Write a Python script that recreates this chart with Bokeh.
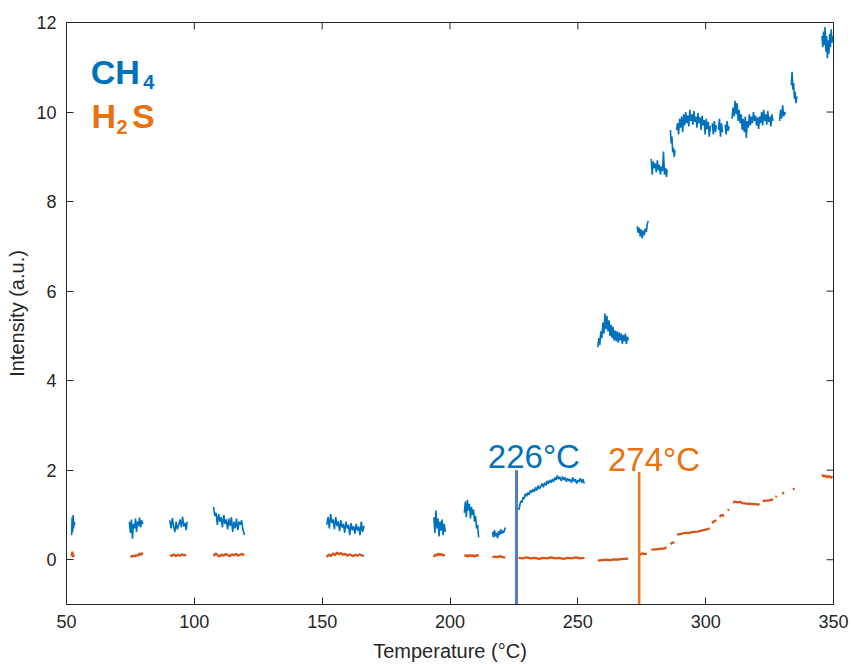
import math
from bokeh.plotting import figure
from bokeh.models import Range1d, FixedTicker
from bokeh.core.properties import value
from bokeh.embed import file_html
from bokeh.resources import INLINE

# ---------------- data ----------------
x_min, x_max = 50, 350
y_min, y_max = -1, 12
x_ticks = [50, 100, 150, 200, 250, 300, 350]
y_ticks = [0, 2, 4, 6, 8, 10, 12]

ch4_x = [
    [52.0, 52.2, 52.4, 52.6, 52.8, 53.0, 53.2],
    [74.6, 75.0, 75.4, 75.8, 76.2, 76.6, 77.0, 77.4, 77.8, 78.2, 78.6, 79.0, 79.4, 79.9],
    [90.4, 90.9, 91.4, 91.9, 92.4, 92.9, 93.4, 93.9, 94.4, 94.9, 95.4, 95.9, 96.4, 96.8, 97.2],
    [107.5, 108.0, 108.5, 109.0, 109.5, 110.0, 110.5, 111.0, 111.5, 112.0, 112.5, 113.0, 113.5,
     114.0, 114.5, 115.0, 115.5, 116.0, 116.5, 117.0, 117.5, 118.0, 118.5, 119.0, 119.6],
    [151.8, 152.3, 152.8, 153.3, 153.8, 154.3, 154.8, 155.3, 155.8, 156.3, 156.8, 157.3, 157.8,
     158.3, 158.8, 159.3, 159.8, 160.3, 160.8, 161.3, 161.8, 162.3, 162.8, 163.3, 163.8, 164.3,
     164.8, 165.3, 165.8, 166.4],
    [193.7, 194.1, 194.5, 194.9, 195.3, 195.7, 196.1, 196.5, 196.9, 197.3, 197.7, 198.2],
    [205.6, 206.0, 206.4, 206.8, 207.2, 207.6, 208.0, 208.4, 208.8, 209.2, 209.6, 210.0, 210.4,
     210.8, 211.2],
    [216.6, 217.0, 217.4, 217.8, 218.2, 218.6, 219.0, 219.4, 219.8, 220.2, 220.6, 221.0, 221.6],
    [226.7, 227.0, 227.4, 227.8, 228.2, 228.6, 229.0, 229.5, 230.0, 230.5, 231.0, 231.5, 232.0,
     232.5, 233.0, 233.5, 234.0, 234.5, 235.0, 235.5, 236.0, 236.5, 237.0, 237.5, 238.0, 238.5,
     239.0, 239.5, 240.0, 240.5, 241.0, 241.5, 242.0, 242.5, 243.0, 243.5, 244.0, 244.5, 245.0,
     245.5, 246.0, 246.5, 247.0, 247.5, 248.0, 248.5, 249.0, 249.5, 250.0, 250.5, 251.0, 251.5,
     252.0, 252.5],
    [257.8, 258.2, 258.6, 259.0, 259.4, 259.8, 260.2, 260.6, 261.0, 261.4, 261.8, 262.2, 262.6,
     263.0, 263.4, 263.8, 264.2, 264.6, 265.0, 265.4, 265.8, 266.2, 266.6, 267.0, 267.4, 267.8,
     268.2, 268.6, 269.0, 269.4, 269.7],
    [273.2, 273.6, 274.0, 274.4, 274.8, 275.2, 275.6, 276.0, 276.4, 276.8, 277.2, 277.5],
    [278.7, 279.1, 279.5, 279.9, 280.3, 280.7, 281.1, 281.5, 281.9, 282.3, 282.7, 283.1, 283.5,
     283.9, 284.3, 284.7, 284.9],
    [286.2, 286.5, 286.8, 287.1, 287.4, 287.7, 288.0],
    [288.6, 289.0, 289.4, 289.8, 290.2, 290.6, 291.0, 291.4, 291.8, 292.2, 292.6, 293.0, 293.4,
     293.8, 294.2, 294.6, 295.0, 295.4, 295.8, 296.2, 296.6, 297.0, 297.4, 297.8, 298.2, 298.6,
     299.0, 299.4, 299.8, 300.2, 300.6, 301.0, 301.4, 301.9],
    [302.6, 303.0, 303.4, 303.8, 304.2],
    [305.0, 305.4, 305.8, 306.2, 306.6],
    [307.6, 308.0, 308.4, 308.8, 309.2],
    [310.3, 310.7, 311.1, 311.5, 311.9, 312.3, 312.7, 313.1, 313.5, 313.9, 314.3, 314.7, 315.1,
     315.5, 315.9, 316.3, 316.7, 317.1, 317.5, 317.9, 318.3, 318.7, 319.1, 319.5, 319.9, 320.3,
     320.7, 321.1, 321.5, 321.9, 322.3, 322.7, 323.1, 323.5, 323.9, 324.3, 324.7, 325.1, 325.5,
     325.9, 326.3],
    [328.9, 329.3, 329.7, 330.1, 330.5, 330.9, 331.2],
    [333.5, 333.8, 334.1, 334.4, 334.7, 335.0, 335.3, 335.7],
    [345.5, 345.8, 346.1, 346.4, 346.7, 347.0, 347.3, 347.6, 347.9, 348.2, 348.5, 348.8, 349.1,
     349.4, 349.7],
]
ch4_y = [
    [0.55, 0.95, 0.62, 1.0, 0.7, 0.85, 0.78],
    [0.85, 0.6, 0.9, 0.47, 0.8, 0.7, 0.92, 0.62, 0.85, 0.75, 0.94, 0.72, 0.88, 0.8],
    [0.88, 0.7, 0.93, 0.75, 0.62, 0.85, 0.68, 0.78, 0.9, 0.72, 0.96, 0.74, 0.82, 0.66, 0.85],
    [1.18, 0.98, 1.05, 0.78, 1.02, 0.85, 0.95, 0.72, 1.0, 0.8, 0.9, 0.68, 0.92, 0.75, 0.95,
     0.62, 0.85, 0.7, 0.92, 0.66, 0.85, 0.78, 0.88, 0.68, 0.55],
    [0.78, 0.95, 0.7, 1.02, 0.82, 0.9, 0.68, 0.95, 0.75, 0.86, 0.64, 0.88, 0.72, 0.8, 0.6,
     0.85, 0.7, 0.78, 0.55, 0.82, 0.66, 0.75, 0.58, 0.8, 0.65, 0.74, 0.55, 0.85, 0.62, 0.76],
    [0.95, 0.6, 1.1, 0.7, 0.92, 0.52, 0.85, 0.65, 0.9, 0.55, 0.8, 0.62],
    [1.05, 1.3, 0.95, 1.34, 1.1, 1.25, 0.92, 1.18, 1.0, 1.12, 0.85, 0.98, 0.7, 0.78, 0.5],
    [0.62, 0.5, 0.66, 0.52, 0.6, 0.48, 0.64, 0.55, 0.68, 0.58, 0.65, 0.6, 0.72],
    [1.15, 1.12, 1.25, 1.32, 1.28, 1.4, 1.36, 1.48, 1.42, 1.5, 1.45, 1.55, 1.5, 1.58, 1.52,
     1.62, 1.55, 1.66, 1.58, 1.64, 1.7, 1.62, 1.72, 1.66, 1.76, 1.7, 1.78, 1.72, 1.8, 1.74,
     1.84, 1.78, 1.88, 1.8, 1.85, 1.76, 1.86, 1.78, 1.84, 1.74, 1.82, 1.76, 1.8, 1.72, 1.84,
     1.75, 1.8, 1.7, 1.78, 1.74, 1.82, 1.72, 1.8, 1.7],
    [4.75, 4.95, 4.8, 5.1, 4.95, 5.3, 5.05, 5.5, 5.15, 5.45, 5.1, 5.35, 5.0, 5.25, 4.95, 5.2,
     4.9, 5.12, 4.88, 5.1, 4.85, 5.08, 4.9, 5.05, 4.82, 5.02, 4.88, 5.05, 4.82, 4.98, 4.9],
    [7.45, 7.3, 7.42, 7.22, 7.38, 7.18, 7.35, 7.25, 7.4, 7.32, 7.5, 7.57],
    [8.95, 8.6, 8.9, 8.75, 8.85, 8.65, 8.92, 8.7, 8.82, 8.6, 8.78, 8.68, 9.12, 8.6, 8.75,
     8.55, 8.72],
    [9.6, 9.3, 9.45, 9.1, 9.2, 9.0, 9.15],
    [9.6, 9.75, 9.5, 9.85, 9.65, 9.9, 9.55, 9.95, 9.7, 10.0, 9.75, 9.92, 9.68, 10.05, 9.8,
     9.95, 9.72, 10.02, 9.78, 9.9, 9.65, 9.98, 9.75, 9.88, 9.6, 9.92, 9.7, 9.82, 9.5, 9.85,
     9.62, 9.78, 9.45, 9.7],
    [9.75, 9.5, 9.8, 9.55, 9.7],
    [9.6, 9.85, 9.45, 9.75, 9.55],
    [9.72, 9.5, 9.8, 9.58, 9.68],
    [9.85, 10.1, 9.9, 10.25, 9.95, 10.2, 9.8, 10.05, 9.75, 9.95, 9.6, 9.85, 9.55, 9.9, 9.42,
     9.8, 9.65, 9.95, 9.7, 9.9, 9.75, 10.0, 9.8, 9.92, 9.7, 9.88, 9.62, 9.9, 9.75, 10.0, 9.7,
     10.05, 9.8, 9.95, 9.72, 10.02, 9.78, 9.9, 9.68, 9.95, 9.8],
    [9.8, 10.05, 9.85, 10.15, 9.9, 10.0, 9.95],
    [10.6, 10.9, 10.5, 10.65, 10.3, 10.45, 10.2, 10.35],
    [11.7, 11.45, 11.8, 11.5, 11.9, 11.35, 11.7, 11.2, 11.6, 11.3, 11.75, 11.45, 11.85, 11.55,
     11.7],
]

h2s_x = [
    [52.0, 52.3, 52.6, 52.9],
    [75.0, 75.6, 76.2, 76.8, 77.4, 78.0, 78.6, 79.2, 79.8],
    [90.4, 91.2, 92.0, 92.8, 93.6, 94.4, 95.2, 96.0, 96.8],
    [107.5, 108.3, 109.1, 109.9, 110.7, 111.5, 112.3, 113.1, 113.9, 114.7, 115.5, 116.3, 117.1,
     117.9, 118.7, 119.5],
    [151.8, 152.6, 153.4, 154.2, 155.0, 155.8, 156.6, 157.4, 158.2, 159.0, 159.8, 160.6, 161.4,
     162.2, 163.0, 163.8, 164.6, 165.4, 166.3],
    [193.7, 194.3, 194.9, 195.5, 196.1, 196.7, 197.3, 198.0],
    [205.6, 206.3, 207.0, 207.7, 208.4, 209.1, 209.8, 210.5, 211.2],
    [216.6, 217.6, 218.6, 219.6, 220.6, 221.6],
    [226.8, 228.4, 230.0, 231.6, 233.2, 234.8, 236.4, 238.0, 239.6, 241.2, 242.8, 244.4, 246.0,
     247.6, 249.2, 250.8, 252.6],
    [257.8, 259.4, 261.0, 262.6, 264.2, 265.8, 267.4, 269.0, 269.7],
    [273.6, 274.4, 275.2, 276.0, 277.0],
    [278.8, 279.8, 280.8, 281.8, 282.8, 283.8, 284.7],
    [286.2, 287.0, 287.8],
    [288.8, 290.4, 292.0, 293.6, 295.2, 296.8, 298.4, 300.0, 301.6],
    [302.5, 303.3, 304.2],
    [305.4, 306.3, 307.3],
    [308.7, 309.1],
    [310.7, 311.5, 312.5, 313.5, 314.5, 315.5, 316.5, 317.5, 318.5, 319.5, 320.3, 321.1],
    [322.3, 323.3, 324.3, 325.3, 326.4],
    [327.3, 327.8],
    [330.0, 330.6],
    [334.1, 334.8],
    [345.5, 346.2, 346.9, 347.6, 348.3, 349.0, 349.6],
]
h2s_y = [
    [0.08, 0.18, 0.06, 0.12],
    [0.08, 0.07, 0.09, 0.08, 0.1, 0.09, 0.14, 0.11, 0.16],
    [0.1, 0.09, 0.12, 0.08, 0.11, 0.09, 0.12, 0.1, 0.11],
    [0.08, 0.14, 0.1, 0.07, 0.12, 0.09, 0.13, 0.1, 0.08, 0.12, 0.1, 0.13, 0.09, 0.11, 0.13, 0.1],
    [0.06, 0.12, 0.08, 0.14, 0.1, 0.16, 0.12, 0.15, 0.11, 0.13, 0.09, 0.12, 0.1, 0.08, 0.11,
     0.09, 0.12, 0.1, 0.08],
    [0.06, 0.12, 0.09, 0.14, 0.1, 0.13, 0.09, 0.12],
    [0.08, 0.1, 0.07, 0.11, 0.08, 0.1, 0.07, 0.11, 0.08],
    [0.06, 0.07, 0.06, 0.08, 0.06, 0.05],
    [0.04, 0.03, 0.05, 0.03, 0.04, 0.02, 0.04, 0.03, 0.05, 0.03, 0.04, 0.02, 0.04, 0.03, 0.05,
     0.03, 0.04],
    [-0.02, -0.01, 0.0, -0.01, 0.01, 0.0, 0.02, 0.02, 0.03],
    [0.13, 0.12, 0.14, 0.13, 0.13],
    [0.22, 0.23, 0.23, 0.24, 0.25, 0.25, 0.28],
    [0.35, 0.38, 0.39],
    [0.56, 0.58, 0.6, 0.6, 0.62, 0.63, 0.65, 0.67, 0.7],
    [0.82, 0.86, 0.88],
    [0.96, 1.0, 0.98],
    [1.1, 1.13],
    [1.27, 1.3, 1.28, 1.29, 1.26, 1.26, 1.25, 1.25, 1.24, 1.24, 1.23, 1.24],
    [1.31, 1.32, 1.32, 1.33, 1.35],
    [1.4, 1.42],
    [1.47, 1.51],
    [1.57, 1.59],
    [1.9, 1.86, 1.88, 1.84, 1.87, 1.83, 1.86],
]

onset_temps = [226, 274]
onset_tops = [2.0, 1.96]
onset_labels = ["226°C", "274°C"]
onset_label_x = [214.8, 261.8]
onset_label_y = [2.31, 2.25]

# ---------------- style ----------------
FONT = "Liberation Sans"
DARK = "#262626"
BLUE = "#0072BD"
ORANGE = "#D95319"
BLUE_TXT = "#0072BD"
ORANGE_TXT = "#E8720F"
BLUE_VLINE = "#4F7FC0"
ORANGE_VLINE = "#EE7420"
TICK_LEN = 7

p = figure(width=852, height=664,
           x_range=Range1d(x_min, x_max), y_range=Range1d(y_min, y_max),
           output_backend="svg", toolbar_location=None,
           min_border_left=66, min_border_right=19,
           min_border_top=22, min_border_bottom=60)
p.xgrid.visible = False
p.ygrid.visible = False
p.background_fill_color = "white"
p.border_fill_color = "white"
p.outline_line_color = DARK
p.outline_line_width = 1

p.xaxis.ticker = FixedTicker(ticks=x_ticks)
p.yaxis.ticker = FixedTicker(ticks=y_ticks)

for ax in (p.xaxis[0], p.yaxis[0]):
    ax.major_tick_in = TICK_LEN
    ax.major_tick_out = 0
    ax.minor_tick_in = 0
    ax.minor_tick_out = 0
    ax.axis_line_color = DARK
    ax.major_tick_line_color = DARK
    ax.major_label_text_font = FONT
    ax.major_label_text_font_size = "18px"
    ax.major_label_text_color = DARK
    ax.major_label_standoff = 10
    ax.axis_label_text_font = FONT
    ax.axis_label_text_font_size = "20px"
    ax.axis_label_text_font_style = "normal"
    ax.axis_label_text_color = DARK
    ax.axis_label_standoff = 5

p.xaxis.axis_label = "Temperature (°C)"
p.yaxis.axis_label = "Intensity (a.u.)"
p.xaxis.axis_label_standoff = 9

# inward ticks on the top and right edges of the box
p.ray(x=x_ticks, y=[y_max] * len(x_ticks), length=TICK_LEN, length_units="screen",
      angle=-math.pi / 2, line_color=DARK, line_width=1)
p.ray(x=[x_max] * len(y_ticks), y=y_ticks, length=TICK_LEN, length_units="screen",
      angle=math.pi, line_color=DARK, line_width=1)

# data traces
p.multi_line(xs=h2s_x, ys=h2s_y, line_color=ORANGE, line_width=2.3)
p.multi_line(xs=ch4_x, ys=ch4_y, line_color=BLUE, line_width=1.6)

# onset markers
p.segment(x0=[onset_temps[0]], y0=[y_min], x1=[onset_temps[0]], y1=[onset_tops[0]],
          line_color=BLUE_VLINE, line_width=3)
p.segment(x0=[onset_temps[1]], y0=[y_min], x1=[onset_temps[1]], y1=[onset_tops[1]],
          line_color=ORANGE_VLINE, line_width=2.5)
p.text(x=[onset_label_x[0]], y=[onset_label_y[0]], text=[onset_labels[0]],
       text_font=value(FONT), text_font_size="33px", text_color=BLUE_TXT,
       text_baseline="alphabetic", text_align="left")
p.text(x=[onset_label_x[1]], y=[onset_label_y[1]], text=[onset_labels[1]],
       text_font=value(FONT), text_font_size="33px", text_color=ORANGE_TXT,
       text_baseline="alphabetic", text_align="left")

# legend-like labels
p.text(x=[59.5], y=[10.89], text=["CH"], text_font=value(FONT), text_font_size="34px",
       text_font_style="bold", text_color=BLUE_TXT, text_baseline="alphabetic")
p.text(x=[80.0], y=[10.67], text=["4"], text_font=value(FONT), text_font_size="20px",
       text_font_style="bold", text_color=BLUE_TXT, text_baseline="alphabetic")
p.text(x=[59.8], y=[9.92], text=["H"], text_font=value(FONT), text_font_size="34px",
       text_font_style="bold", text_color=ORANGE_TXT, text_baseline="alphabetic")
p.text(x=[69.6], y=[9.66], text=["2"], text_font=value(FONT), text_font_size="20px",
       text_font_style="bold", text_color=ORANGE_TXT, text_baseline="alphabetic")
p.text(x=[75.6], y=[9.92], text=["S"], text_font=value(FONT), text_font_size="34px",
       text_font_style="bold", text_color=ORANGE_TXT, text_baseline="alphabetic")

open("out.html", "w").write(file_html(p, INLINE))
